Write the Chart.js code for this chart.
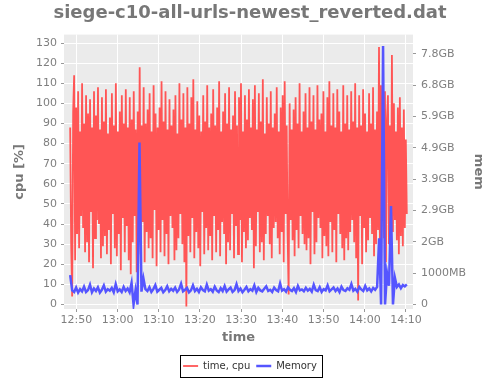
<!DOCTYPE html>
<html>
<head>
<meta charset="utf-8">
<script src="https://cdn.jsdelivr.net/npm/chart.js@4"></script>
<style>
  html, body { margin: 0; padding: 0; background: #fff; }
</style>
</head>
<body>
<canvas id="chart" width="500" height="378"></canvas>
<script>
// cpu samples (%), one every ~14.5 s starting 12:48:30
const cpuStart = 48.5;   // minutes after 12:00
const cpuStep = 0.241;
const cpuValues = [
  88, 30, 4, 96, 114, 22, 98, 35, 106, 28, 86, 44, 110, 38, 90, 26, 104, 31, 95, 21,
  102, 46, 88, 18, 106, 33, 94, 42, 108, 40, 87, 23, 103, 29, 91, 34, 107, 25, 85, 37,
  93, 20, 105, 45, 89, 28, 110, 24, 86, 35, 96, 17, 104, 43, 90, 26, 107, 39, 88, 22,
  103, 15, 92, 31, 106, 44, 87, 16, 96, 34, 118, 25, 89, 41, 108, 21, 90, 36, 97, 28,
  105, 33, 86, 23, 109, 47, 95, 19, 88, 37, 98, 26, 111, 42, 91, 24, 106, 35, 87, 20,
  102, 44, 89, 38, 97, 22, 104, 27, 85, 33, 110, 45, 92, 30, 105, 21, 88, -1, 108, 34,
  90, 26, 103, 43, 112, 23, 87, 36, 101, 28, 94, 19, 86, 46, 104, 25, 91, 38, 109, 27,
  88, 34, 95, 22, 107, 44, 89, 26, 98, 37, 111, 24, 86, 41, 96, 35, 105, 20, 90, 31,
  108, 27, 87, 45, 94, 23, 106, 39, 89, 25, 103, 42, 110, 21, 86, 36, 104, 28, 92, 32,
  107, 43, 88, 37, 102, 18, 109, 29, 87, 46, 105, 26, 91, 31, 112, 22, 85, 35, 103, 44,
  90, 30, 106, 23, 88, 38, 95, 41, 108, 33, 86, 25, 98, 36, 104, 21, 111, 45, 89, 34,
  5, 100, 42, 87, 32, 97, 24, 103, 37, 90, 28, 110, 44, 86, 35, 96, 30, 105, 27, 88,
  33, 108, 20, 91, 46, 104, 25, 87, 31, 109, 43, 92, 38, 95, 23, 106, 34, 86, 29, 103,
  24, 111, 41, 89, 26, 105, 37, 88, 21, 107, 45, 96, 35, 86, 28, 109, 22, 90, 33, 104,
  27, 87, 36, 106, 42, 91, 31, 110, 23, 88, 2, 104, 44, 89, 20, 107, 38, 95, 26, 86,
  32, 105, 43, 90, 35, 108, 24, 87, 30, 96, 37, 128, 22, 109, 45, 88, 33, 106, 21, 92,
  104, 30, 89, 24, 124, 36, 100, 42, 86, 32, 98, 25, 103, 34, 88, 29, 97, 38, 82, 45
];

// memory samples (MB), one every ~29 s starting 12:48:30
const memStart = 48.5;
const memStep = 0.4806;
const memValues = [
  940, 450, 400, 540, 380, 490, 420, 570, 400, 460, 630, 390, 510, 430, 550, 380, 470, 610, 410, 490,
  440, 530, 390, 650, 420, 480, 400, 560, 430, 510, 390, 690, 0, 450, 0, 5170, 410, 830, 490, 430,
  550, 400, 490, 620, 410, 470, 530, 390, 460, 580, 420, 500, 440, 540, 400, 480, 660, 420, 470, 530,
  390, 450, 610, 430, 500, 400, 550, 460, 420, 630, 440, 490, 410, 570, 450, 400, 520, 430, 590, 410,
  480, 540, 400, 460, 650, 430, 510, 390, 470, 560, 420, 490, 440, 610, 400, 530, 450, 420, 500, 580,
  430, 470, 400, 540, 460, 420, 670, 440, 490, 410, 550, 470, 430, 520, 400, 590, 450, 480, 420, 530,
  440, 500, 410, 630, 460, 430, 550, 400, 490, 450, 610, 420, 480, 540, 430, 510, 400, 570, 460, 430,
  520, 470, 650, 440, 500, 410, 560, 480, 430, 590, 450, 510, 420, 530, 470, 560, 2110, 0, 8250, 0,
  1000, 600, 3140, 0, 850, 560, 640, 520, 620, 580, 640
];

const timeTicks = [50, 60, 70, 80, 90, 100, 110, 120, 130];
const timeLabels = ['12:50', '13:00', '13:10', '13:20', '13:30', '13:40', '13:50', '14:00', '14:10'];
const cpuTicks = [0, 10, 20, 30, 40, 50, 60, 70, 80, 90, 100, 110, 120, 130];
const memTicks = [0, 1000, 2000, 3000, 4000, 5000, 6000, 7000, 8000];
const memLabels = ['0', '1000MB', '2GB', '2.9GB', '3.9GB', '4.9GB', '5.9GB', '6.8GB', '7.8GB'];

const FONT = 'DejaVu Sans';
const GREY = '#7f7f7f';

const cpuPoints = cpuValues.map((v, i) => ({ x: cpuStart + i * cpuStep, y: v }));
const memPoints = memValues.map((v, i) => ({ x: memStart + i * memStep, y: v }));

// grey panel behind the plot
const panelBg = {
    id: 'panelBg',
    beforeDraw(chart) {
        const { ctx, chartArea: a } = chart;
        ctx.save();
        ctx.fillStyle = '#ebebeb';
        ctx.fillRect(a.left, a.top, a.right - a.left, a.bottom - a.top);
        ctx.restore();
    }
};

// black frame around the legend
const legendFrame = {
    id: 'legendFrame',
    afterDraw(chart) {
        const boxes = chart.legend.legendHitBoxes;
        if (!boxes.length) return;
        const first = boxes[0];
        const last = boxes[boxes.length - 1];
        const left = first.left - 3;
        const right = last.left + last.width + 5;
        const cy = first.top + first.height / 2;
        const ctx = chart.ctx;
        ctx.save();
        ctx.strokeStyle = '#000';
        ctx.lineWidth = 1;
        ctx.strokeRect(Math.round(left) + 0.5, Math.round(cy - 11) + 0.5, Math.round(right - left), 22);
        ctx.restore();
    }
};

const ctx = document.getElementById('chart').getContext('2d');
new Chart(ctx, {
    type: 'line',
    data: {
        datasets: [
            {
                label: 'time, cpu',
                data: cpuPoints,
                yAxisID: 'y',
                borderColor: '#ff5555',
                backgroundColor: '#ff5555',
                borderWidth: 1.8,
                pointRadius: 0,
                tension: 0,
                order: 1
            },
            {
                label: 'Memory',
                data: memPoints,
                yAxisID: 'yMem',
                borderColor: '#5555ff',
                backgroundColor: '#5555ff',
                borderWidth: 2.5,
                pointRadius: 0,
                tension: 0,
                order: 0
            }
        ]
    },
    options: {
        responsive: false,
        animation: false,
        devicePixelRatio: 1,
        layout: { padding: { left: 0, right: 0, top: 0, bottom: -3 } },
        plugins: {
            tooltip: { enabled: false },
            title: {
                display: true,
                text: 'siege-c10-all-urls-newest_reverted.dat',
                color: '#777',
                font: { family: FONT, size: 18, weight: 'bold' },
                padding: { top: 3, bottom: 10 }
            },
            legend: {
                position: 'bottom',
                labels: {
                    usePointStyle: true,
                    pointStyle: 'line',
                    pointStyleWidth: 15,
                    boxWidth: 15,
                    padding: 6,
                    color: '#333',
                    font: { family: FONT, size: 10 },
                    sort: (a, b) => a.datasetIndex - b.datasetIndex
                }
            }
        },
        scales: {
            x: {
                type: 'linear',
                min: 47.0,
                max: 131.7,
                afterBuildTicks: (axis) => { axis.ticks = timeTicks.map(v => ({ value: v })); },
                afterFit: (axis) => { axis.height = 46; },
                border: { display: false },
                grid: { color: '#fff', lineWidth: 1, tickColor: '#999', tickLength: 3 },
                ticks: {
                    color: GREY,
                    font: { family: FONT, size: 11 },
                    padding: 2,
                    maxRotation: 0,
                    callback: (v, i) => timeLabels[i]
                },
                title: {
                    display: true,
                    text: 'time',
                    color: '#777',
                    font: { family: FONT, size: 13, weight: 'bold' },
                    padding: { top: 0, bottom: 10 }
                }
            },
            y: {
                position: 'left',
                min: -2.24,
                max: 134.2,
                afterBuildTicks: (axis) => { axis.ticks = cpuTicks.map(v => ({ value: v })); },
                afterFit: (axis) => { axis.width = 64; },
                border: { display: false },
                grid: { color: '#fff', lineWidth: 1, tickColor: '#999', tickLength: 3 },
                ticks: {
                    color: GREY,
                    font: { family: FONT, size: 11 },
                    padding: 4
                },
                title: {
                    display: true,
                    text: 'cpu [%]',
                    color: '#777',
                    font: { family: FONT, size: 13, weight: 'bold' },
                    padding: { top: 12, bottom: 0 }
                }
            },
            yMem: {
                position: 'right',
                min: -144,
                max: 8617,
                afterBuildTicks: (axis) => { axis.ticks = memTicks.map(v => ({ value: v })); },
                afterFit: (axis) => { axis.width = 87; },
                border: { display: false },
                grid: { drawOnChartArea: false, tickColor: '#999', tickLength: 3 },
                ticks: {
                    color: GREY,
                    font: { family: FONT, size: 11 },
                    padding: 5,
                    callback: (v, i) => memLabels[i]
                },
                title: {
                    display: true,
                    text: 'mem',
                    color: '#777',
                    font: { family: FONT, size: 13, weight: 'bold' },
                    padding: { top: 14, bottom: 0 }
                }
            }
        }
    },
    plugins: [panelBg, legendFrame]
});
</script>
</body>
</html>
